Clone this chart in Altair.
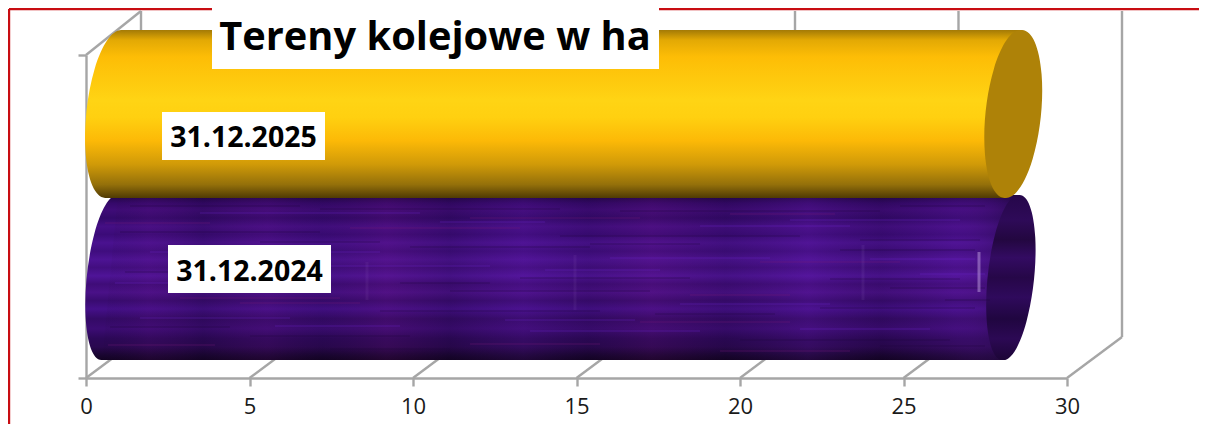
import altair as alt
import pandas as pd

FONT = "Open Sans"
GREY = "#A6A6A6"

# Data
categories = ["31.12.2024", "31.12.2025"]
values = [27.55, 27.5]
x_ticks = [0, 5, 10, 15, 20, 25, 30]
title_text = "Tereny kolejowe w ha"

# Pixel scale of the plot: x 0..30 -> 86..1067, y 0..2 -> 378..55
PXU = 981 / 30
PYU = 323 / 2
def dx(p): return (p - 86) / PXU
def dy(p): return (378 - p) / PYU

X = alt.X("x:Q", scale=alt.Scale(domain=[0, 30], nice=False),
          axis=alt.Axis(values=x_ticks, title=None, grid=False, format="d",
                        domainColor=GREY, domainWidth=2.4, tickColor=GREY, tickWidth=2.4,
                        tickSize=8, labelFont=FONT, labelFontSize=22, labelColor="#1a1a1a",
                        labelPadding=10, labelFlush=False, labelOverlap=False))
Y = alt.Y("y:Q", scale=alt.Scale(domain=[0, 2], nice=False),
          axis=alt.Axis(values=[0, 2], title=None, grid=False, labels=False,
                        domainColor=GREY, domainWidth=2.4, tickColor=GREY, tickWidth=2.4, tickSize=8))

depth_x, depth_y = 55 / PXU, 41 / PYU

# red frame
frame = pd.DataFrame([
    dict(x=dx(9), x2=dx(9), y=dy(9), y2=dy(440)),
    dict(x=dx(9), x2=dx(1210), y=dy(9), y2=dy(9)),
])
frame_l = alt.Chart(frame).mark_rule(color="#C80D12", strokeWidth=2.4).encode(x=X, x2="x2:Q", y=Y, y2="y2:Q")

# 3D walls: back verticals + floor diagonals + side diagonal
walls = []
for t in x_ticks:
    walls.append(dict(x=t + depth_x, x2=t + depth_x, y=dy(337), y2=dy(11)))
    walls.append(dict(x=t, x2=t + depth_x, y=0, y2=dy(337)))
walls.append(dict(x=0, x2=depth_x, y=2, y2=dy(11)))
walls_l = alt.Chart(pd.DataFrame(walls)).mark_rule(color=GREY, strokeWidth=2.4).encode(
    x=X, x2="x2:Q", y=Y, y2="y2:Q")

GOLD = alt.Gradient(gradient="linear", x1=0, x2=0, y1=0, y2=1, stops=[
    alt.GradientStop(color="#A37A06", offset=0),
    alt.GradientStop(color="#E3A904", offset=0.06),
    alt.GradientStop(color="#FDBD06", offset=0.16),
    alt.GradientStop(color="#FFD414", offset=0.42),
    alt.GradientStop(color="#FFD010", offset=0.52),
    alt.GradientStop(color="#FCB907", offset=0.66),
    alt.GradientStop(color="#D09A08", offset=0.80),
    alt.GradientStop(color="#94700A", offset=0.92),
    alt.GradientStop(color="#4F3A04", offset=1),
])
PURPLE = alt.Gradient(gradient="linear", x1=0, x2=0, y1=0, y2=1, stops=[
    alt.GradientStop(color="#1E0640", offset=0),
    alt.GradientStop(color="#35096A", offset=0.05),
    alt.GradientStop(color="#3F0C78", offset=0.09),
    alt.GradientStop(color="#33096A", offset=0.14),
    alt.GradientStop(color="#450F85", offset=0.19),
    alt.GradientStop(color="#3B0B78", offset=0.24),
    alt.GradientStop(color="#4A1290", offset=0.29),
    alt.GradientStop(color="#3F0D7E", offset=0.34),
    alt.GradientStop(color="#4D1394", offset=0.39),
    alt.GradientStop(color="#420E80", offset=0.44),
    alt.GradientStop(color="#4F1498", offset=0.49),
    alt.GradientStop(color="#3F0C78", offset=0.54),
    alt.GradientStop(color="#4A1188", offset=0.59),
    alt.GradientStop(color="#390B70", offset=0.64),
    alt.GradientStop(color="#45108A", offset=0.69),
    alt.GradientStop(color="#340A66", offset=0.75),
    alt.GradientStop(color="#3C0C74", offset=0.81),
    alt.GradientStop(color="#2C0858", offset=0.87),
    alt.GradientStop(color="#2A0850", offset=0.92),
    alt.GradientStop(color="#190530", offset=0.97),
    alt.GradientStop(color="#120322", offset=1),
])
PURPLE_CAP = alt.Gradient(gradient="linear", x1=0, x2=0, y1=0, y2=1, stops=[
    alt.GradientStop(color="#26074A", offset=0),
    alt.GradientStop(color="#2E0A58", offset=0.15),
    alt.GradientStop(color="#230740", offset=0.27),
    alt.GradientStop(color="#330B62", offset=0.38),
    alt.GradientStop(color="#260748", offset=0.5),
    alt.GradientStop(color="#2F0A5C", offset=0.62),
    alt.GradientStop(color="#200640", offset=0.75),
    alt.GradientStop(color="#2C0954", offset=0.87),
    alt.GradientStop(color="#1C0536", offset=1),
])
# horizontal mottling veil laid over the purple body
VEIL = alt.Gradient(gradient="linear", x1=0, x2=1, y1=0, y2=0, stops=[
    alt.GradientStop(color="rgba(20,4,40,0.04)", offset=0),
    alt.GradientStop(color="rgba(110,20,130,0.12)", offset=0.05),
    alt.GradientStop(color="rgba(20,4,40,0.18)", offset=0.11),
    alt.GradientStop(color="rgba(110,20,130,0.14)", offset=0.18),
    alt.GradientStop(color="rgba(20,4,40,0.10)", offset=0.24),
    alt.GradientStop(color="rgba(120,20,120,0.16)", offset=0.31),
    alt.GradientStop(color="rgba(20,4,40,0.16)", offset=0.38),
    alt.GradientStop(color="rgba(110,30,180,0.14)", offset=0.46),
    alt.GradientStop(color="rgba(20,4,40,0.12)", offset=0.53),
    alt.GradientStop(color="rgba(120,20,120,0.15)", offset=0.60),
    alt.GradientStop(color="rgba(20,4,40,0.14)", offset=0.68),
    alt.GradientStop(color="rgba(110,30,180,0.18)", offset=0.77),
    alt.GradientStop(color="rgba(20,4,40,0.14)", offset=0.85),
    alt.GradientStop(color="rgba(110,30,180,0.16)", offset=0.93),
    alt.GradientStop(color="rgba(30,8,60,0.55)", offset=1),
])

def cap_path(rx, ry):
    sx, sy = round(ry * 0.105, 1), round(ry * 0.9945, 1)
    return f"M{sx} {-sy} A{rx} {ry} 6 1 1 {-sx} {sy} A{rx} {ry} 6 1 1 {sx} {-sy} Z"

def cylinder(value, cy_px, half, rx, extent, fill, cap_fill, veil=None):
    off = dx(86 + extent)
    skew = dx(86 + half * 0.095)
    body = pd.DataFrame([
        dict(x=off + skew, x2=off + skew + value, y=dy(cy_px - half)),
        dict(x=off - skew, x2=off - skew + value, y=dy(cy_px + half)),
    ])
    ends = pd.DataFrame([dict(x=off, y=dy(cy_px))])
    tail = pd.DataFrame([dict(x=off + value, y=dy(cy_px))])
    path = cap_path(rx, round(half * 1.005, 1))
    out = [
        alt.Chart(ends).mark_point(shape=path, size=4, filled=True, fill=fill, opacity=1, strokeWidth=0).encode(x=X, y=Y),
        alt.Chart(body).mark_area(orient="horizontal", fill=fill, opacity=1).encode(x=X, x2="x2:Q", y=Y),
    ]
    if veil is not None:
        out.append(alt.Chart(body).mark_area(orient="horizontal", fill=veil, opacity=1).encode(x=X, x2="x2:Q", y=Y))
    out.append(alt.Chart(tail).mark_point(shape=path, size=4, filled=True, fill=cap_fill, opacity=1, strokeWidth=0).encode(x=X, y=Y))
    return out

purple_layers = cylinder(values[0], 277.5, 82.5, 22.5, 24, PURPLE, PURPLE_CAP, VEIL)
gold_layers = cylinder(values[1], 114, 84, 27, 28, GOLD, "#AE8208")

# hand-placed mottling on the purple body: x-start, x-end, y (px), colour
streak_x1 = [130, 200, 320, 470, 620, 790, 900, 120, 350, 560, 700, 860, 150, 410, 610, 840, 125, 300, 520, 760, 920, 180, 450, 680, 890, 140, 380, 640, 820, 250, 530, 740,
             105, 260, 440, 590, 730, 870, 115, 240, 400, 545, 690, 830, 110, 275, 470, 655, 800, 945, 108, 330, 505, 720, 880]
streak_x2 = [300, 420, 560, 640, 880, 960, 985, 320, 520, 800, 850, 980, 380, 590, 770, 975, 280, 490, 690, 900, 985, 340, 650, 830, 985, 290, 600, 790, 975, 410, 700, 950,
             210, 380, 545, 700, 835, 975, 220, 360, 490, 660, 790, 960, 230, 400, 600, 775, 930, 990, 215, 450, 635, 850, 985]
streak_y  = [206, 213, 209, 218, 211, 220, 206, 232, 228, 236, 226, 240, 252, 247, 258, 250, 272, 266, 278, 262, 274, 298, 291, 304, 288, 318, 311, 322, 308, 336, 331, 340,
             223, 242, 222, 244, 214, 259, 283, 303, 283, 270, 295, 279, 327, 326, 344, 314, 329, 300, 345, 349, 320, 351, 346]
DARK, BLUE, RED = "#1C063A", "#6A22C8", "#7A1A78"
streak_c  = [DARK, BLUE, DARK, RED, DARK, BLUE, DARK, DARK, RED, DARK, BLUE, DARK,
             BLUE, DARK, BLUE, DARK, DARK, BLUE, DARK, RED, BLUE, RED, DARK, BLUE, DARK,
             BLUE, DARK, RED, DARK, DARK, BLUE, DARK,
             RED, DARK, BLUE, DARK, RED, BLUE, BLUE, RED, DARK, BLUE, RED, DARK,
             DARK, BLUE, RED, DARK, BLUE, DARK, RED, DARK, BLUE, RED, DARK]
streaks = pd.DataFrame(dict(x=[dx(v) for v in streak_x1], x2=[dx(v) for v in streak_x2],
                            y=[dy(v) for v in streak_y], c=streak_c))
streak_l = alt.Chart(streaks).mark_rule(strokeWidth=2.2, opacity=0.2).encode(
    x=X, x2="x2:Q", y=Y, color=alt.Color("c:N", scale=None))

# vertical faint glints on the purple
glints = pd.DataFrame(dict(x=[dx(979), dx(367), dx(575), dx(863)], y=[dy(252), dy(262), dy(255), dy(245)],
                           y2=[dy(292), dy(300), dy(310), dy(300)], o=[0.5, 0.07, 0.07, 0.08]))
glint_l = alt.Chart(glints).mark_rule(strokeWidth=3, color="#C0A0E0").encode(
    x=X, y=Y, y2="y2:Q", opacity=alt.Opacity("o:Q", scale=None))

# label boxes and texts
boxes = pd.DataFrame([
    dict(x=dx(168), x2=dx(331), y=dy(245), y2=dy(293)),
    dict(x=dx(162), x2=dx(325), y=dy(112), y2=dy(160)),
    dict(x=dx(212), x2=dx(659), y=dy(0), y2=dy(69)),
])
box_l = alt.Chart(boxes).mark_rect(color="white", opacity=1).encode(x=X, x2="x2:Q", y=Y, y2="y2:Q")

labels = pd.DataFrame(dict(x=[dx(249.5), dx(243.5)], y=[dy(272), dy(138)], t=categories))
label_l = alt.Chart(labels).mark_text(font=FONT, fontWeight="bold", fontSize=28.5, color="black",
                                      align="center", baseline="middle").encode(x=X, y=Y, text="t:N")
title_df = pd.DataFrame(dict(x=[dx(435)], y=[dy(38)], t=[title_text]))
title_l = alt.Chart(title_df).mark_text(font=FONT, fontWeight="bold", fontSize=39.8, color="black",
                                        align="center", baseline="middle").encode(x=X, y=Y, text="t:N")

layers = [frame_l, walls_l] + purple_layers + [streak_l, glint_l] + gold_layers + [box_l, label_l, title_l]

chart = alt.layer(*layers).resolve_scale(x="shared", y="shared").properties(
    width=981, height=323,
    padding={"left": 78, "top": 47, "right": 132, "bottom": 46},
    autosize="none", background="white",
).configure_view(stroke=None)

chart.save("out.html", embed_options={"renderer": "svg", "actions": False})
